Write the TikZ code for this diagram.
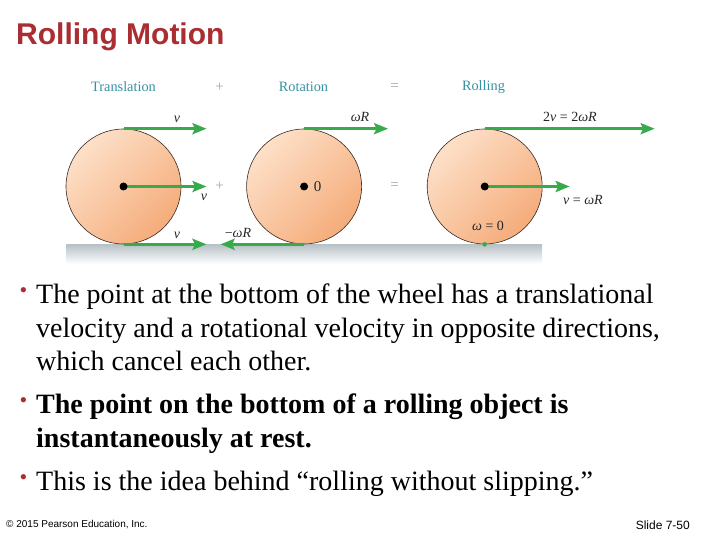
\documentclass[tikz,border=0pt]{standalone}
\usepackage{fontspec}
\setmainfont{Liberation Serif}
\newfontfamily\arialfont{Liberation Sans}
\usepackage{tikz}
\usetikzlibrary{arrows.meta,calc,positioning}
\definecolor{slidered}{RGB}{170,45,50}
\definecolor{headteal}{RGB}{55,145,165}
\definecolor{opgrey}{RGB}{150,170,180}
\definecolor{velgreen}{RGB}{55,170,75}
\definecolor{wheellight}{RGB}{253,224,200}
\definecolor{wheeldark}{RGB}{245,172,122}
\definecolor{wheeledge}{RGB}{55,40,35}
\definecolor{groundgrey}{RGB}{182,192,197}
\tikzset{
  velarrow/.style={-{Stealth[length=14pt,width=11pt,inset=2.5pt]}, line width=3.6pt, draw=velgreen},
  wheel/.style={
    circle,
    draw=wheeledge,
    line width=0.6pt,
    minimum size=115pt,
    inner sep=0pt,
    top color=wheellight,
    bottom color=wheeldark,
    shading angle=45
  },
  hub/.style={circle, fill=black, minimum size=8pt, inner sep=0pt},
  contactdot/.style={circle, fill=velgreen, minimum size=4.5pt, inner sep=0pt},
  headlabel/.style={font=\fontsize{14.3}{16}\selectfont, text=headteal},
  oplabel/.style={font=\fontsize{15}{17}\selectfont, text=opgrey},
  vlabel/.style={font=\fontsize{14}{16}\selectfont, text=black!85},
  bodytext/.style={font=\fontsize{28}{33.5}\selectfont, align=left, inner sep=0pt},
  bulletmark/.style={font=\fontsize{22}{22}\selectfont, text=slidered, inner sep=0pt},
  footnote/.style={font=\arialfont\fontsize{10}{12}\selectfont, inner sep=0pt}
}

\begin{document}
\begin{tikzpicture}[x=1pt, y=-1pt, node distance=65pt]
  \useasboundingbox (0,0) rectangle (720,540);
  \node[anchor=west, inner sep=0pt, text=slidered, font=\arialfont\bfseries\fontsize{30}{33}\selectfont] (title) at (16,36.5) {Rolling Motion};

  % ground and wheels
  \shade[top color=groundgrey, bottom color=white] (66,244) rectangle (542,264);
  \node[wheel] (trans) at (123.5,186.5) {};
  \node[wheel, right=of trans] (rot) {};
  \node[wheel, right=of rot] (roll) {};

  \node[headlabel] (transhead) at (123.5,87) {Translation};
  \node[headlabel] (rothead) at (303.5,87) {Rotation};
  \node[headlabel] (rollhead) at (483.5,87) {Rolling};
  \node[oplabel] (plushead) at (219.5,87) {+};
  \node[oplabel] (eqhead) at (394.5,87) {=};
  \node[oplabel] (plusmid) at (219.5,186.5) {+};
  \node[oplabel] (eqmid) at (394.5,186.5) {=};

  \coordinate[right=83pt of trans.north] (transtop);
  \coordinate[right=83pt of trans.center] (transmid);
  \coordinate[right=83pt of trans.south] (transbot);
  \coordinate[right=84pt of rot.north] (rottop);
  \coordinate[left=83.5pt of rot.south] (rotbot);
  \coordinate[right=170pt of roll.north] (rolltop);
  \coordinate[right=85pt of roll.center] (rollmid);

  \draw[velarrow] (trans.north) -- (transtop);
  \draw[velarrow] (trans.center) -- (transmid);
  \draw[velarrow] (trans.south) -- (transbot);
  \draw[velarrow] (rot.north) -- (rottop);
  \draw[velarrow] (rot.south) -- (rotbot);
  \draw[velarrow] (roll.north) -- (rolltop);
  \draw[velarrow] (roll.center) -- (rollmid);

  \node[hub] (transhub) at (trans.center) {};
  \node[hub] (rothub) at (rot.center) {};
  \node[hub] (rollhub) at (roll.center) {};
  \node[contactdot] (contact) at (roll.south) {};

  \node[vlabel] (vtop) at (177,119) {\textit{v}};
  \node[vlabel] (vmid) at (204,197) {\textit{v}};
  \node[vlabel] (vbot) at (177,235) {\textit{v}};
  \node[vlabel] (wrtop) at (360,117) {\textit{ωR}};
  \node[vlabel] (wrbot) at (238,233) {−\textit{ωR}};
  \node[vlabel, font=\fontsize{15}{17}\selectfont] (zero) at (317.5,187) {0};
  \node[vlabel] (rolltoplab) at (570,117) {2\textit{v} = 2\textit{ωR}};
  \node[vlabel] (rollmidlab) at (583,200) {\textit{v} = \textit{ωR}};
  \node[vlabel] (rollbotlab) at (488,226) {\textit{ω} = 0};

  % bullet text
  \node[bulletmark] (b1) at (23.5,292.5) {•};
  \node[bulletmark] (b2) at (23.5,402.5) {•};
  \node[bulletmark] (b3) at (23.5,479.5) {•};
  \node[bodytext, anchor=north west] (para1) at (36,284) {The point at the bottom of the wheel has a translational\\velocity and a rotational velocity in opposite directions,\\which cancel each other.};
  \node[bodytext, anchor=north west, font=\bfseries\fontsize{28}{33.5}\selectfont] (para2) at (36,394) {The point on the bottom of a rolling object is\\instantaneously at rest.};
  \node[bodytext, anchor=north west] (para3) at (36,471) {This is the idea behind “rolling without slipping.”};

  \node[footnote, anchor=west] (copyright) at (6,525) {© 2015 Pearson Education, Inc.};
  \node[footnote, anchor=east, font=\arialfont\fontsize{12}{14}\selectfont] (slideno) at (690,525) {Slide 7-50};

\end{tikzpicture}
\end{document}
